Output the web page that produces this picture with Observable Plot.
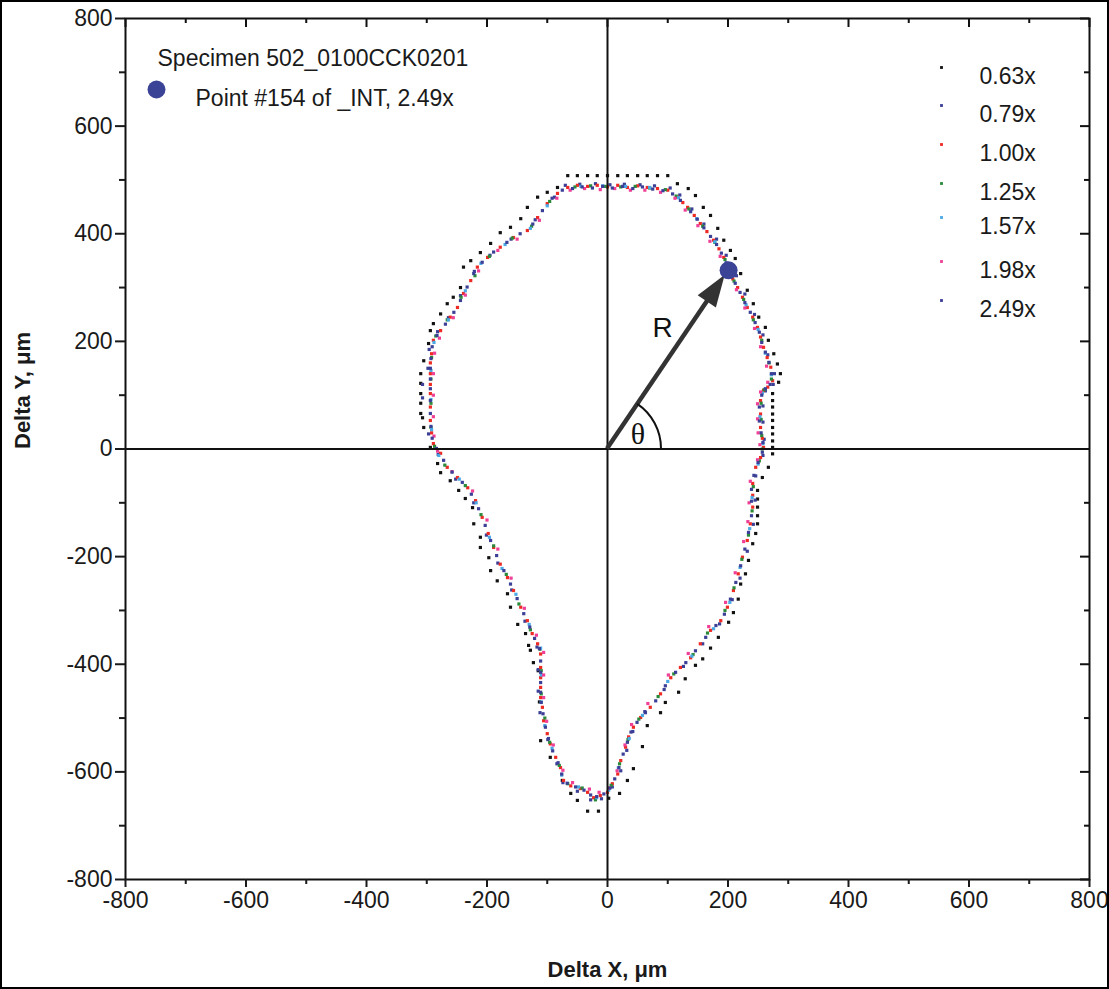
<!DOCTYPE html>
<html><head><meta charset="utf-8">
<script src="https://cdn.jsdelivr.net/npm/d3@7"></script>
<script src="https://cdn.jsdelivr.net/npm/@observablehq/plot@0.6"></script>
<style>
html,body{margin:0;padding:0;background:#fff;}
#chart svg{display:block;outline:2px solid #000;outline-offset:-2px;}
</style></head><body><div id="chart"></div><script>
const specimen = "Specimen 502_0100CCK0201";
const seriesLabels = ["0.63x","0.79x","1.00x","1.25x","1.57x","1.98x","2.49x"];
const seriesColors = ["#111111","#3b3f96","#ee2a24","#2a8a3a","#4aa8e4","#ef3f97","#3b3f96"];
const highlight = {label: "Point #154 of _INT, 2.49x", x: 201, y: 332};
const xMajor = [-800,-600,-400,-200,0,200,400,600,800];
const xMinor = [-700,-500,-300,-100,100,300,500,700];
const yMajor = [-800,-600,-400,-200,0,200,400,600,800];
const yMinor = [-700,-500,-300,-100,100,300,500,700];

const s063 = [[-66,508],[-50,508],[-33,508],[-17,508],[0,508],[17,508],[33,508],[50,508],[66,508],[83,508],[100,508],
[116,493],[134,484],[146,471],[159,449],[171,434],[183,410],[193,388],[204,369],[212,354],[221,326],[232,295],[242,270],[251,245],[262,226],[267,202],[276,177],[282,158],[287,140],[284,124],[274,103],[274,90],[274,78],[274,65],[274,53],[274,40],[274,28],[274,15],[274,3],
[274,-9],[267,-34],[257,-53],[249,-77],[249,-93],[249,-108],[249,-124],[249,-139],[246,-157],[241,-176],[234,-207],[229,-232],[221,-251],[217,-279],[209,-304],[201,-322],[184,-350],[171,-370],[158,-390],[146,-402],[129,-427],[118,-452],[96,-471],[88,-490],[66,-514],[58,-553],[43,-594],[33,-616],[20,-640],[2,-649],
[-15,-673],[-33,-673],[-50,-653],[-61,-640],[-75,-616],[-95,-573],[-111,-542],[-113,-470],[-115,-412],[-123,-397],[-128,-374],[-131,-365],[-136,-343],[-149,-326],[-161,-294],[-166,-269],[-183,-245],[-194,-226],[-197,-202],[-211,-183],[-211,-164],[-222,-139],[-224,-109],[-236,-92],[-247,-77],[-261,-59],[-277,-44],[-282,-27],[-294,3],
[-305,40],[-307,58],[-310,66],[-310,85],[-310,103],[-310,122],[-310,140],[-305,164],[-297,196],[-294,220],[-289,233],[-277,251],[-266,270],[-256,282],[-244,300],[-239,338],[-227,350],[-211,365],[-194,382],[-178,402],[-161,412],[-144,428],[-133,449],[-116,468],[-100,477],[-83,486]];

const s079 = [[-70,490],[-46,492],[-20,493],[4,491],[28,492],[54,491],[78,489],[104,485],
[120,472],[140,446],[160,418],[181,390],[197,360],[214,322],[228,288],[244,250],[258,212],[266,175],[277,140],[275,120],[262,108],[258,80],[258,50],[260,18],
[258,-12],[246,-50],[245,-95],[242,-140],[232,-190],[220,-240],[207,-280],[186,-325],[158,-362],[126,-404],[94,-447],[62,-488],[42,-525],[32,-560],[22,-598],[8,-628],
[-10,-650],[-28,-652],[-50,-636],[-74,-620],[-84,-585],[-99,-540],[-112,-490],[-115,-450],[-115,-410],[-117,-368],[-137,-320],[-159,-262],[-182,-212],[-201,-160],[-222,-100],[-252,-56],[-281,-10],
[-297,28],[-307,95],[-307,120],[-298,150],[-296,185],[-282,218],[-264,244],[-244,285],[-221,330],[-195,360],[-160,390],[-120,426],[-88,468]];

const s100 = [[-66,486],[-50,490],[-33,488],[-17,490],[0,487],[17,490],[33,486],[50,489],[66,486],[83,484],[100,481],
[116,468],[125,458],[133,449],[144,434],[154,419],[165,404],[176,388],[185,372],[193,356],[201,340],[208,316],[216,300],[224,282],[232,263],[241,245],[249,226],[254,208],[259,189],[265,170],[271,152],[274,127],[266,115],[259,109],[254,90],[254,65],[254,40],[257,20],[259,3],
[254,-16],[246,-34],[241,-64],[241,-86],[241,-108],[237,-139],[232,-170],[224,-201],[217,-232],[209,-263],[199,-294],[188,-319],[171,-337],[154,-362],[138,-388],[121,-406],[105,-425],[88,-455],[71,-480],[55,-499],[43,-517],[35,-535],[30,-554],[22,-579],[17,-604],[8,-622],[0,-638],
[-12,-644],[-23,-648],[-33,-638],[-45,-631],[-61,-626],[-73,-616],[-78,-592],[-86,-573],[-95,-548],[-100,-529],[-106,-505],[-108,-480],[-111,-462],[-111,-443],[-111,-425],[-111,-406],[-111,-381],[-116,-362],[-125,-343],[-133,-319],[-144,-294],[-156,-263],[-166,-239],[-178,-214],[-189,-183],[-198,-157],[-208,-127],[-219,-96],[-232,-72],[-249,-53],[-266,-34],[-277,-8],[-289,10],
[-292,30],[-294,53],[-294,78],[-294,103],[-294,120],[-294,140],[-294,160],[-292,177],[-289,202],[-277,220],[-261,245],[-249,263],[-239,289],[-227,313],[-216,338],[-199,356],[-178,375],[-156,393],[-133,406],[-116,430],[-100,456],[-83,475]];

const s125 = [[-54,487],[-28,489],[-4,488],[22,487],[46,488],[70,485],[96,482],
[114,470],[135,446],[158,414],[178,384],[195,352],[210,312],[226,278],[242,240],[256,202],[268,160],[272,130],[260,110],[255,85],[255,55],[256,25],[257,0],
[252,-22],[242,-70],[240,-115],[234,-160],[223,-205],[210,-258],[195,-300],[166,-342],[142,-382],[110,-418],[84,-460],[52,-502],[34,-540],[20,-585],[6,-625],
[-20,-652],[-42,-630],[-66,-622],[-80,-588],[-96,-545],[-104,-500],[-110,-455],[-110,-412],[-112,-372],[-128,-336],[-147,-288],[-168,-233],[-189,-180],[-210,-122],[-236,-68],[-270,-30],[-287,5],
[-293,40],[-293,85],[-293,130],[-292,170],[-285,210],[-266,240],[-243,282],[-220,322],[-196,358],[-158,392],[-126,414],[-96,460]];

const s157 = [[-44,488],[-8,489],[30,488],[70,486],
[118,467],[148,428],[178,385],[203,328],[230,268],[250,222],[262,178],[272,138],[257,104],[253,60],[258,10],
[250,-28],[240,-90],[236,-148],[220,-220],[203,-285],[176,-334],[140,-385],[100,-432],[58,-495],[36,-538],[18,-593],[2,-634],
[-18,-648],[-48,-628],[-76,-606],[-92,-556],[-104,-514],[-110,-470],[-110,-420],[-111,-370],[-130,-326],[-152,-270],[-175,-222],[-196,-164],[-218,-100],[-246,-56],[-280,-12],
[-292,36],[-293,92],[-293,146],[-288,198],[-264,240],[-236,294],[-210,345],[-170,380],[-128,410],[-100,452]];

const s198 = [[-62,481],[-38,484],[-12,482],[12,484],[38,481],[62,481],[88,477],
[112,466],[129,444],[150,415],[170,386],[187,358],[201,330],[214,296],[228,262],[244,224],[254,190],[264,154],[266,124],[254,106],[249,84],[249,56],[250,30],[253,8],
[249,-20],[237,-60],[235,-100],[233,-135],[226,-172],[212,-230],[196,-285],[168,-330],[134,-380],[101,-420],[67,-473],[40,-512],[29,-550],[16,-598],[3,-630],
[-14,-638],[-30,-632],[-58,-620],[-74,-597],[-90,-550],[-101,-506],[-106,-462],[-106,-420],[-106,-378],[-118,-346],[-138,-296],[-160,-240],[-182,-186],[-200,-132],[-224,-78],[-258,-42],[-282,-4],
[-288,24],[-289,60],[-289,100],[-289,140],[-287,178],[-279,206],[-256,244],[-236,286],[-214,331],[-182,369],[-150,390],[-113,425],[-84,466]];

const s249 = [[-58,484],[-42,487],[-25,485],[-8,488],[8,485],[25,488],[42,484],[58,487],[75,483],[92,480],
[108,474],[121,462],[138,441],[149,427],[160,411],[171,395],[181,380],[189,364],[197,346],[205,324],[212,308],[220,291],[228,272],[237,254],[245,235],[252,217],[256,198],[262,180],[268,161],[272,140],[270,120],[262,112],[256,100],[252,78],[252,52],[255,30],[258,12],
[257,-6],[250,-25],[243,-49],[239,-75],[239,-97],[239,-124],[234,-155],[228,-186],[221,-217],[213,-248],[204,-279],[194,-307],[180,-328],[163,-350],[146,-375],[130,-397],[113,-415],[96,-440],[80,-468],[63,-490],[49,-508],[39,-526],[33,-545],[26,-567],[19,-592],[12,-613],[4,-630],
[-6,-641],[-18,-646],[-28,-643],[-39,-634],[-53,-628],[-67,-621],[-76,-604],[-82,-583],[-91,-561],[-98,-538],[-103,-517],[-107,-492],[-110,-471],[-111,-452],[-111,-434],[-111,-415],[-111,-394],[-113,-371],[-121,-352],[-129,-331],[-139,-306],[-150,-278],[-161,-251],[-172,-226],[-184,-198],[-194,-170],[-203,-142],[-214,-111],[-226,-84],[-241,-62],[-258,-43],[-272,-21],[-284,1],
[-291,20],[-293,42],[-294,66],[-294,90],[-294,112],[-294,130],[-294,150],[-293,168],[-291,190],[-283,211],[-269,232],[-255,254],[-244,276],[-233,301],[-222,326],[-208,347],[-189,366],[-167,384],[-145,400],[-124,418],[-108,443],[-92,466],[-75,481]];

const seriesData = [s063, s079, s100, s125, s157, s198, s249];
const points = seriesData.flatMap((arr, i) => arr.map(([x, y]) => ({x, y, s: seriesLabels[i]})));

const W = 1109, H = 989, mL = 125, mR = 20, mT = 18, mB = 110;
const innerW = W - mL - mR, innerH = H - mT - mB;
const legendDy = [49, 87, 126, 165, 199, 243, 282];
const ink = "#1a1a1a";
const fmt = d => String(d);

function annotation(index, scales) {
  const x0 = scales.x(0), y0 = scales.y(0);
  const x1 = scales.x(highlight.x), y1 = scales.y(highlight.y);
  const dx = x1 - x0, dy = y1 - y0, L = Math.hypot(dx, dy);
  const ux = dx / L, uy = dy / L, nx = -uy, ny = ux;
  const tx = x1 - ux * 6, ty = y1 - uy * 6;
  const bx = tx - ux * 32, by = ty - uy * 32;
  const g = d3.create("svg:g");
  g.append("line").attr("x1", x0).attr("y1", y0).attr("x2", bx + ux * 3).attr("y2", by + uy * 3)
    .attr("stroke", "#333").attr("stroke-width", 4.5);
  g.append("path").attr("d", `M${tx},${ty}L${bx + nx * 11},${by + ny * 11}L${bx - nx * 11},${by - ny * 11}Z`).attr("fill", "#333");
  const a = Math.atan2(-dy, dx), r = 54;
  g.append("path").attr("d", `M${x0 + r},${y0}A${r},${r} 0 0 0 ${x0 + r * Math.cos(a)},${y0 - r * Math.sin(a)}`)
    .attr("fill", "none").attr("stroke", "#111").attr("stroke-width", 2);
  g.append("text").attr("x", x0 + dx * 0.5 - 5).attr("y", y0 + dy * 0.5 - 32).attr("text-anchor", "middle")
    .attr("dominant-baseline", "central").attr("font-size", 28).attr("fill", "#111").text("R");
  g.append("text").attr("x", x0 + 31).attr("y", y0 - 15).attr("text-anchor", "middle")
    .attr("dominant-baseline", "central").attr("font-size", 30).attr("font-family", "'Liberation Serif','DejaVu Serif',serif")
    .attr("fill", "#111").text("θ");
  return g.node();
}

const legendMarks = seriesLabels.flatMap((lab, i) => [
  Plot.dot([lab], {frameAnchor: "top-left", dx: 816, dy: legendDy[i], symbol: "square", r: 1.6, fill: seriesColors[i]}),
  Plot.text([lab], {frameAnchor: "top-left", dx: 854, dy: legendDy[i], text: d => d, textAnchor: "start", fill: ink, fontSize: 23})
]);

const chart = Plot.plot({
  width: W, height: H,
  marginLeft: mL, marginRight: mR, marginTop: mT, marginBottom: mB,
  style: {fontFamily: "'Liberation Sans', Arial, Helvetica, sans-serif", fontSize: "23px", color: ink, background: "#fff"},
  x: {domain: [-800, 800]},
  y: {domain: [-800, 800]},
  color: {domain: seriesLabels, range: seriesColors, type: "ordinal"},
  marks: [
    Plot.dot(points, {x: "x", y: "y", fill: "s", symbol: "square", r: 1.8}),
    Plot.ruleX([0], {stroke: "#111", strokeWidth: 2}),
    Plot.ruleY([0], {stroke: "#111", strokeWidth: 2}),
    annotation,
    Plot.dot([highlight], {x: "x", y: "y", r: 9, fill: "#3b4396"}),
    Plot.frame({stroke: "#111", strokeWidth: 2}),
    Plot.axisX({anchor: "bottom", ticks: xMajor, tickSize: 8, tickPadding: 4, strokeWidth: 2, label: null, fontSize: 23, tickFormat: fmt}),
    Plot.axisX({anchor: "bottom", ticks: xMinor, tickSize: 5, strokeWidth: 2, tickFormat: () => "", label: null}),
    Plot.axisY({anchor: "left", ticks: yMajor, tickSize: 10, tickPadding: 3, strokeWidth: 2, label: null, fontSize: 23, tickFormat: fmt}),
    Plot.axisY({anchor: "left", ticks: yMinor, tickSize: 6, strokeWidth: 2, tickFormat: () => "", label: null}),
    Plot.tickX(xMajor, {x: d => d, insetBottom: innerH - 9, stroke: "#111", strokeWidth: 2}),
    Plot.tickX(xMinor, {x: d => d, insetBottom: innerH - 5, stroke: "#111", strokeWidth: 2}),
    Plot.tickY(yMajor, {y: d => d, insetLeft: innerW - 9, stroke: "#111", strokeWidth: 2}),
    Plot.tickY(yMinor, {y: d => d, insetLeft: innerW - 5, stroke: "#111", strokeWidth: 2}),
    Plot.text([specimen], {frameAnchor: "top-left", dx: 32, dy: 31, text: d => d, textAnchor: "start", fill: ink, fontSize: 23}),
    Plot.dot([highlight], {frameAnchor: "top-left", dx: 31, dy: 71, r: 9, fill: "#3b4396"}),
    Plot.text([highlight], {frameAnchor: "top-left", dx: 70, dy: 71, text: "label", textAnchor: "start", fill: ink, fontSize: 23}),
    ...legendMarks,
    Plot.text(["Delta X, μm"], {frameAnchor: "bottom", dy: 97, text: d => d, fontWeight: "bold", fontSize: 22, fill: ink}),
    Plot.text(["Delta Y, μm"], {frameAnchor: "left", dx: -103, text: d => d, rotate: -90, fontWeight: "bold", fontSize: 22, fill: ink})
  ]
});
document.getElementById("chart").append(chart);
</script></body></html>
